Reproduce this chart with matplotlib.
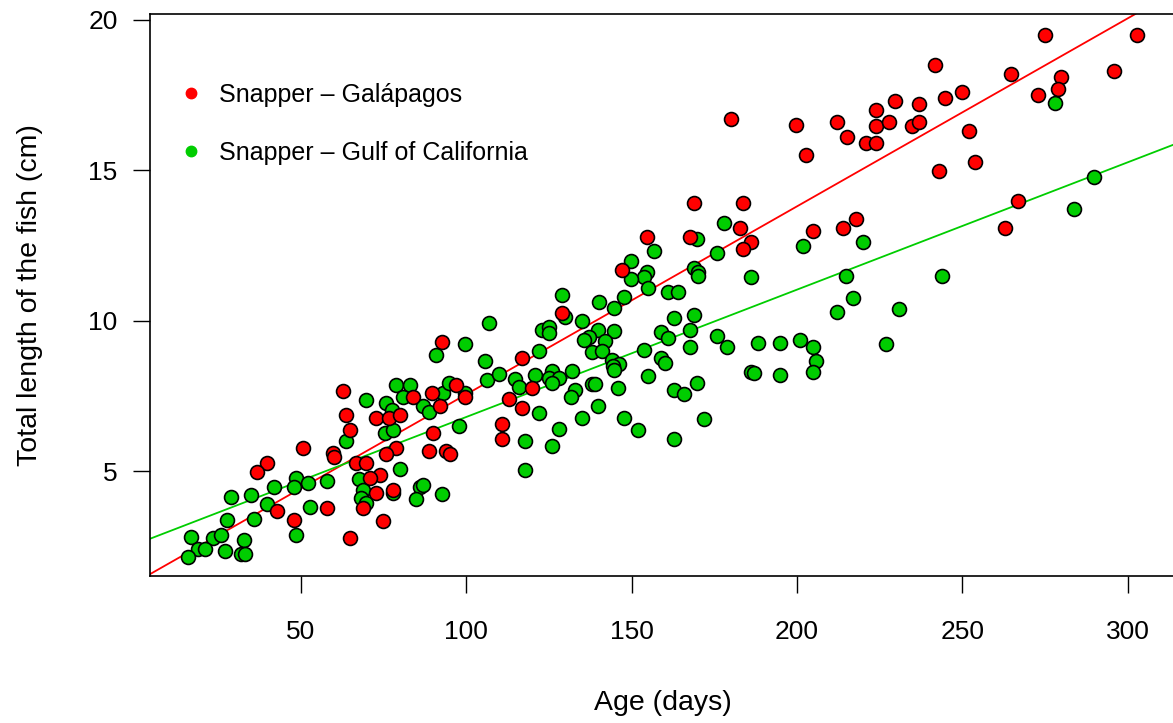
import matplotlib
matplotlib.use("Agg")
import matplotlib.pyplot as plt
from matplotlib.lines import Line2D
import numpy as np

# --- Data: age (days) and total length (cm) ---

gal_age = [92.8, 62.8, 63.8, 64.8, 72.8, 76.7, 79.9, 83.9, 89.8, 92.0, 96.8, 99.8,
           90.0, 88.9, 93.8, 95.0, 78.9, 75.9, 50.7, 59.8, 60.0, 66.8, 69.8, 73.9,
           70.8, 72.8, 77.9, 68.8, 74.9, 64.8, 57.8, 47.9, 42.9, 39.9, 36.8, 128.9,
           116.9, 119.9, 112.9, 116.9, 110.9, 110.9, 180.0, 199.8, 202.9, 168.9, 183.8,
           182.9, 154.8, 167.7, 186.0, 183.8, 204.9, 147.0, 274.9, 302.9, 241.9, 264.8,
           295.9, 279.9, 278.9, 272.9, 249.9, 244.9, 236.9, 229.8, 223.8, 212.0, 223.8,
           227.8, 234.8, 236.9, 215.0, 220.8, 223.8, 251.9, 253.9, 242.9, 213.9, 217.9,
           266.8, 262.8]
gal_len = [9.28, 7.67, 6.86, 6.36, 6.77, 6.77, 6.86, 7.47, 7.58, 7.16, 7.86, 7.47,
           6.27, 5.66, 5.66, 5.57, 5.78, 5.55, 5.76, 5.59, 5.48, 5.25, 5.25, 4.87,
           4.76, 4.26, 4.37, 3.76, 3.35, 2.76, 3.76, 3.37, 3.68, 5.26, 4.96, 10.26,
           8.77, 7.77, 7.38, 7.08, 6.56, 6.07, 16.69, 16.50, 15.49, 13.90, 13.90,
           13.09, 12.79, 12.79, 12.60, 12.38, 12.99, 11.68, 19.49, 19.49, 18.50, 18.20,
           18.30, 18.11, 17.69, 17.50, 17.60, 17.39, 17.19, 17.30, 17.00, 16.59, 16.48,
           16.59, 16.48, 16.59, 16.09, 15.89, 15.89, 16.29, 15.28, 14.98, 13.09, 13.38,
           13.99, 13.09]

gulf_age = [106.8, 99.8, 90.8, 105.8, 106.2, 69.8, 78.9, 82.9, 80.9, 75.9, 77.7, 86.9,
            93.0, 94.7, 99.5, 88.9, 75.4, 77.9, 63.8, 97.8, 79.9, 67.6, 68.8, 68.3,
            69.8, 77.9, 86.1, 86.9, 84.9, 92.8, 57.8, 52.7, 48.7, 52.2, 47.9, 48.7,
            41.9, 39.9, 34.8, 35.8, 28.9, 27.8, 23.6, 25.9, 32.9, 31.9, 33.1, 27.1,
            16.8, 19.0, 21.0, 15.8,
            129.0, 140.1, 147.8, 160.9, 164.1, 144.8, 130.0, 134.9, 122.9, 125.0, 125.0,
            140.0, 144.8, 137.0, 135.7, 141.9, 137.9, 141.0, 121.9, 109.9, 114.9, 115.9,
            120.9, 126.0, 125.0, 128.0, 126.0, 132.0, 144.0, 146.1, 144.3, 144.8, 137.9,
            138.9, 132.9, 131.8, 145.8, 140.0, 121.9, 135.0, 128.0, 126.0, 117.9, 117.9,
            147.8, 151.9, 162.9, 153.8, 158.9, 161.0, 162.9, 169.0, 167.8, 167.8, 158.9,
            160.0, 154.9, 162.9, 166.0, 169.9, 171.9, 175.9, 179.0, 188.1, 186.0, 187.0,
            194.9, 194.9, 200.9, 204.9, 205.7, 204.9,
            217.0, 212.0, 230.8, 226.8,
            178.0, 169.9, 201.8, 156.9, 175.8, 149.8, 154.8, 153.8, 149.8, 168.9, 170.1,
            170.1, 155.1, 186.0,
            277.9, 289.9, 283.8, 219.9, 214.9, 243.9]
gulf_len = [9.91, 9.22, 8.84, 8.66, 8.03, 7.35, 7.86, 7.86, 7.47, 7.25, 7.03, 7.17,
            7.60, 7.94, 7.58, 6.97, 6.27, 6.36, 6.01, 6.51, 5.05, 4.72, 4.37, 4.09,
            3.93, 4.26, 4.46, 4.54, 4.06, 4.23, 4.68, 3.79, 4.76, 4.59, 4.46, 2.87,
            4.48, 3.90, 4.19, 3.39, 4.15, 3.37, 2.76, 2.87, 2.71, 2.24, 2.24, 2.35,
            2.82, 2.40, 2.40, 2.15,
            10.86, 10.62, 10.80, 10.96, 10.96, 10.41, 10.13, 10.00, 9.69, 9.78, 9.60,
            9.69, 9.65, 9.47, 9.35, 9.32, 8.94, 8.99, 8.99, 8.21, 8.05, 7.80,
            8.19, 8.33, 8.08, 8.08, 7.91, 8.33, 8.69, 8.56, 8.49, 8.36, 7.89,
            7.89, 7.69, 7.47, 7.77, 7.16, 6.94, 6.77, 6.40, 5.83, 6.01, 5.03,
            6.77, 6.36, 6.06, 9.02, 9.61, 9.43, 10.08, 10.19, 9.69, 9.11, 8.77,
            8.58, 8.16, 7.69, 7.55, 7.94, 6.72, 9.50, 9.13, 9.24, 8.28, 8.27,
            9.24, 8.19, 9.35, 9.13, 8.67, 8.28,
            10.76, 10.30, 10.37, 9.21,
            13.23, 12.70, 12.48, 12.31, 12.24, 11.99, 11.63, 11.44, 11.37, 11.74, 11.62,
            11.48, 11.09, 11.46,
            17.24, 14.76, 13.72, 12.60, 11.49, 11.49]

labels = ["Snapper \u2013 Gal\u00e1pagos", "Snapper \u2013 Gulf of California"]
RED = "#FF0000"
GREEN = "#00CD00"

plt.rcParams['font.family'] = ['Liberation Sans', 'DejaVu Sans']
FS_TICK = 19
FS_LAB = 20.5
FS_LEG = 18

fig = plt.figure(figsize=(11.73, 7.23), dpi=100)
ax = fig.add_axes([150.3 / 1173, 1 - 576 / 723, 1025.3 / 1173, 562 / 723])

ax.scatter(gulf_age, gulf_len, s=100, c=GREEN, edgecolors="black", linewidths=1.2, zorder=3)
ax.scatter(gal_age, gal_len, s=100, c=RED, edgecolors="black", linewidths=1.2, zorder=3)

# least-squares lines, like abline(lm(...))
for xs, ys, col in [(gal_age, gal_len, RED), (gulf_age, gulf_len, GREEN)]:
    m, b = np.polyfit(xs, ys, 1)
    ax.axline((0, b), slope=m, color=col, lw=1.3, zorder=2)

ax.set_xlim(4.5, 314.5)
ax.set_ylim(1.51, 20.19)
ax.set_xticks([50, 100, 150, 200, 250, 300])
ax.set_yticks([5, 10, 15, 20])

for sp in ax.spines.values():
    sp.set_linewidth(1.2)
ax.tick_params(axis="both", length=12.5, width=1.0, labelsize=FS_TICK)
ax.tick_params(axis="x", pad=19)
ax.tick_params(axis="y", pad=11)

ax.set_xlabel("Age (days)", fontsize=FS_LAB)
ax.set_ylabel("Total length of the fish (cm)", fontsize=FS_LAB)
ax.xaxis.set_label_coords(0.5, -0.226)
ax.xaxis.label.set_va("center")
ax.yaxis.set_label_coords(-0.1175, 0.5)
ax.yaxis.label.set_va("center")

handles = [Line2D([], [], ls="none", marker="o", ms=7.5, color=RED),
           Line2D([], [], ls="none", marker="o", ms=7.5, color=GREEN)]
ax.legend(handles, labels, loc="upper left", bbox_to_anchor=(0.0273, 0.878),
          frameon=False, fontsize=FS_LEG, handlelength=1.0, handletextpad=0.62,
          labelspacing=1.36, borderpad=0, borderaxespad=0)

fig.savefig("out.png", dpi=100)
